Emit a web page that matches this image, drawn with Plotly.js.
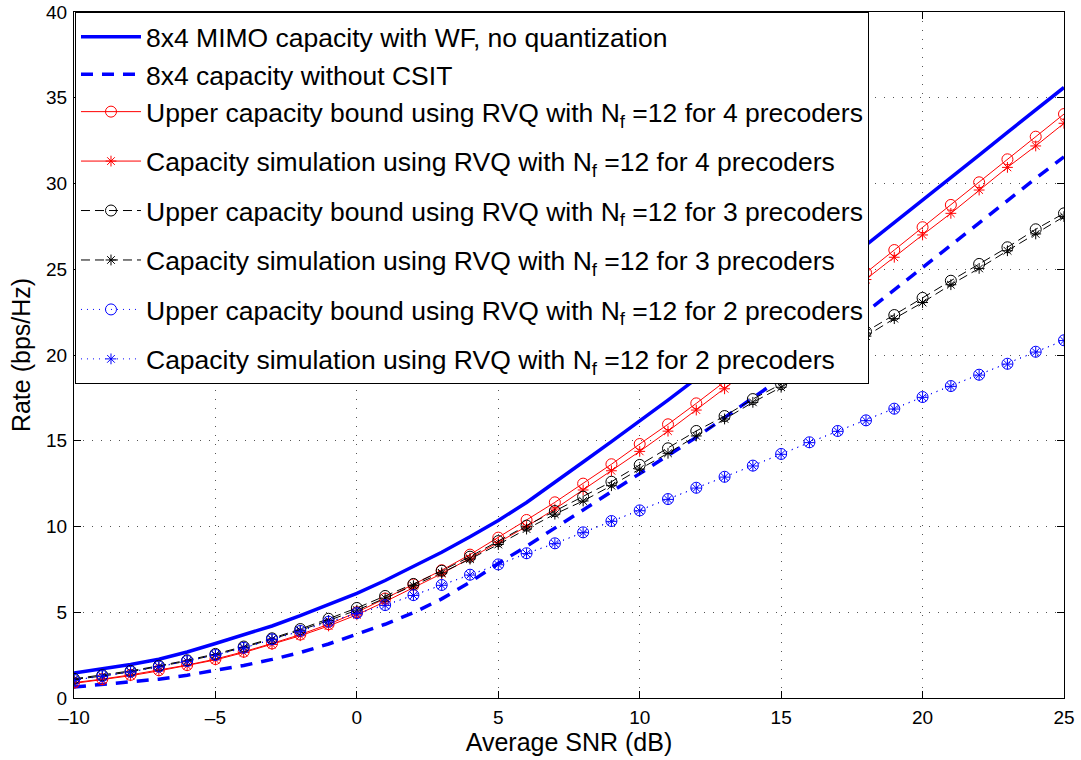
<!DOCTYPE html>
<html>
<head>
<meta charset="utf-8">
<script src="https://cdn.plot.ly/plotly-3.0.1.min.js"></script>
<style>html,body{margin:0;padding:0;background:#fff;} #chart{width:1081px;height:760px;}</style>
</head>
<body>
<div id="chart"></div>
<script>
// SNR axis (dB)
const snr = [-10,-9,-8,-7,-6,-5,-4,-3,-2,-1,0,1,2,3,4,5,6,7,8,9,10,11,12,13,14,15,16,17,18,19,20,21,22,23,24,25];

// 8x4 MIMO capacity with WF, no quantization
const capWF = [1.45,1.68,1.95,2.26,2.68,3.18,3.68,4.2,4.8,5.45,6.1,6.85,7.65,8.5,9.4,10.35,11.4,12.55,13.76,14.95,16.15,17.37,18.62,19.9,21.2,22.5,23.8,25.1,26.4,27.72,29.04,30.35,31.66,32.98,34.29,35.6];
// 8x4 capacity without CSIT
const capNoCSIT = [0.64,0.78,0.93,1.1,1.33,1.6,1.9,2.25,2.65,3.15,3.7,4.3,4.97,5.78,6.75,7.85,8.85,9.9,10.95,12.0,13.05,14.1,15.2,16.35,17.5,18.65,19.9,21.2,22.55,23.85,25.15,26.45,27.75,29.0,30.3,31.55];
// 4 precoders
const ub4 = [0.9,1.1,1.35,1.62,1.92,2.27,2.7,3.18,3.7,4.3,5.0,5.8,6.62,7.45,8.36,9.35,10.38,11.41,12.5,13.63,14.81,15.96,17.18,18.42,19.7,21.0,22.25,23.5,24.8,26.12,27.45,28.75,30.07,31.41,32.73,34.05];
const sim4 = [0.85,1.06,1.3,1.58,1.88,2.22,2.65,3.12,3.63,4.2,4.85,5.62,6.42,7.25,8.15,9.08,10.0,11.02,12.13,13.25,14.38,15.56,16.79,18.03,19.3,20.55,21.85,23.1,24.4,25.7,27.0,28.26,29.62,30.94,32.19,33.51];
// 3 precoders
const ub3 = [1.12,1.33,1.58,1.88,2.2,2.57,3.0,3.48,4.02,4.62,5.25,5.95,6.65,7.42,8.24,9.15,10.05,10.9,11.74,12.61,13.59,14.56,15.57,16.44,17.43,18.3,19.3,20.33,21.36,22.33,23.33,24.33,25.31,26.28,27.33,28.26];
const sim3 = [1.08,1.28,1.53,1.83,2.15,2.52,2.95,3.43,3.95,4.52,5.12,5.82,6.55,7.3,8.1,8.95,9.85,10.72,11.49,12.38,13.35,14.27,15.28,16.27,17.24,18.12,19.1,20.1,21.1,22.12,23.06,24.1,25.05,26.08,27.06,28.07];
// 2 precoders
const ub2 = [1.05,1.28,1.53,1.83,2.16,2.51,2.93,3.42,3.91,4.45,4.95,5.42,6.0,6.59,7.19,7.79,8.44,9.02,9.66,10.32,10.94,11.6,12.26,12.9,13.55,14.23,14.91,15.57,16.19,16.87,17.55,18.19,18.85,19.49,20.19,20.86];
const sim2 = [1.03,1.26,1.51,1.81,2.14,2.49,2.91,3.4,3.89,4.43,4.93,5.4,5.98,6.57,7.17,7.77,8.42,9.0,9.64,10.3,10.92,11.58,12.24,12.88,13.53,14.21,14.89,15.55,16.17,16.85,17.53,18.17,18.83,19.47,20.17,20.84];

const names = [
  "8x4 MIMO capacity with WF, no quantization",
  "8x4 capacity without CSIT",
  "Upper capacity bound using RVQ with N<sub>f</sub> =12 for 4 precoders",
  "Capacity simulation using RVQ with N<sub>f</sub> =12 for 4 precoders",
  "Upper capacity bound using RVQ with N<sub>f</sub> =12 for 3 precoders",
  "Capacity simulation using RVQ with N<sub>f</sub> =12 for 3 precoders",
  "Upper capacity bound using RVQ with N<sub>f</sub> =12 for 2 precoders",
  "Capacity simulation using RVQ with N<sub>f</sub> =12 for 2 precoders"
];

const traces = [
  {x: snr, y: capWF, name: names[0], legendgroup: 'g0', mode: 'lines', line: {color: '#0000ff', width: 3.5}},
  {x: snr, y: capNoCSIT, name: names[1], legendgroup: 'g0', mode: 'lines', line: {color: '#0000ff', width: 3.5, dash: '12px,9px'}},
  {x: snr, y: ub4, name: names[2], legendgroup: 'g0', mode: 'lines+markers', line: {color: '#ff0000', width: 1},
   marker: {symbol: 'circle-open', size: 11, color: '#ff0000', line: {width: 1}}},
  {x: snr, y: sim4, name: names[3], legendgroup: 'g3', mode: 'lines+markers', line: {color: '#ff0000', width: 1},
   marker: {symbol: 'asterisk-open', size: 9, color: '#ff0000', line: {width: 1}}},
  {x: snr, y: ub3, name: names[4], legendgroup: 'g4', mode: 'lines+markers', line: {color: '#000000', width: 1, dash: '9px,5px'},
   marker: {symbol: 'circle-open', size: 11, color: '#000000', line: {width: 1}}},
  {x: snr, y: sim3, name: names[5], legendgroup: 'g5', mode: 'lines+markers', line: {color: '#000000', width: 1, dash: '9px,5px'},
   marker: {symbol: 'asterisk-open', size: 9, color: '#000000', line: {width: 1}}},
  {x: snr, y: ub2, name: names[6], legendgroup: 'g6', mode: 'lines+markers', line: {color: '#0000ff', width: 1, dash: '1px,5px'},
   marker: {symbol: 'circle-open', size: 11, color: '#0000ff', line: {width: 1}}},
  {x: snr, y: sim2, name: names[7], legendgroup: 'g7', mode: 'lines+markers', line: {color: '#0000ff', width: 1, dash: '1px,5px'},
   marker: {symbol: 'asterisk-open', size: 9, color: '#0000ff', line: {width: 1}}}
];

const axisCommon = {
  showline: true, linecolor: '#000', linewidth: 1, mirror: 'ticks',
  ticks: 'inside', ticklen: 7, tickcolor: '#000', tickwidth: 1,
  showgrid: true, gridcolor: '#555', gridwidth: 1, griddash: '1px,8px',
  zeroline: false,
  tickfont: {family: 'Liberation Sans, Arial, sans-serif', size: 19, color: '#000'}
};

const layout = {
  width: 1081, height: 760,
  margin: {l: 74, r: 17, t: 12, b: 62},
  paper_bgcolor: '#fff', plot_bgcolor: '#fff',
  showlegend: true,
  font: {family: 'Liberation Sans, Arial, sans-serif', color: '#000'},
  xaxis: Object.assign({}, axisCommon, {
    range: [-10, 25], tickvals: [-10,-5,0,5,10,15,20,25], ticktext: ['\u201310','\u20135','0','5','10','15','20','25'],
    ticklabelstandoff: 2,
    title: {text: 'Average SNR (dB)', font: {size: 25, color: '#000'}, standoff: 2}
  }),
  yaxis: Object.assign({}, axisCommon, {
    range: [0, 40], tickvals: [0,5,10,15,20,25,30,35,40],
    ticklabelstandoff: 2,
    title: {text: 'Rate (bps/Hz)', font: {size: 25, color: '#000'}, standoff: 8}
  }),
  legend: {
    x: 0.001, y: 1, xanchor: 'left', yanchor: 'top',
    bgcolor: '#fff', bordercolor: '#000', borderwidth: 1,
    font: {family: 'Liberation Sans, Arial, sans-serif', size: 26.5, color: '#000'},
    traceorder: 'grouped', tracegroupgap: 12, itemwidth: 60
  }
};

Plotly.newPlot('chart', traces, layout, {displayModeBar: false, staticPlot: true});
</script>
</body>
</html>
